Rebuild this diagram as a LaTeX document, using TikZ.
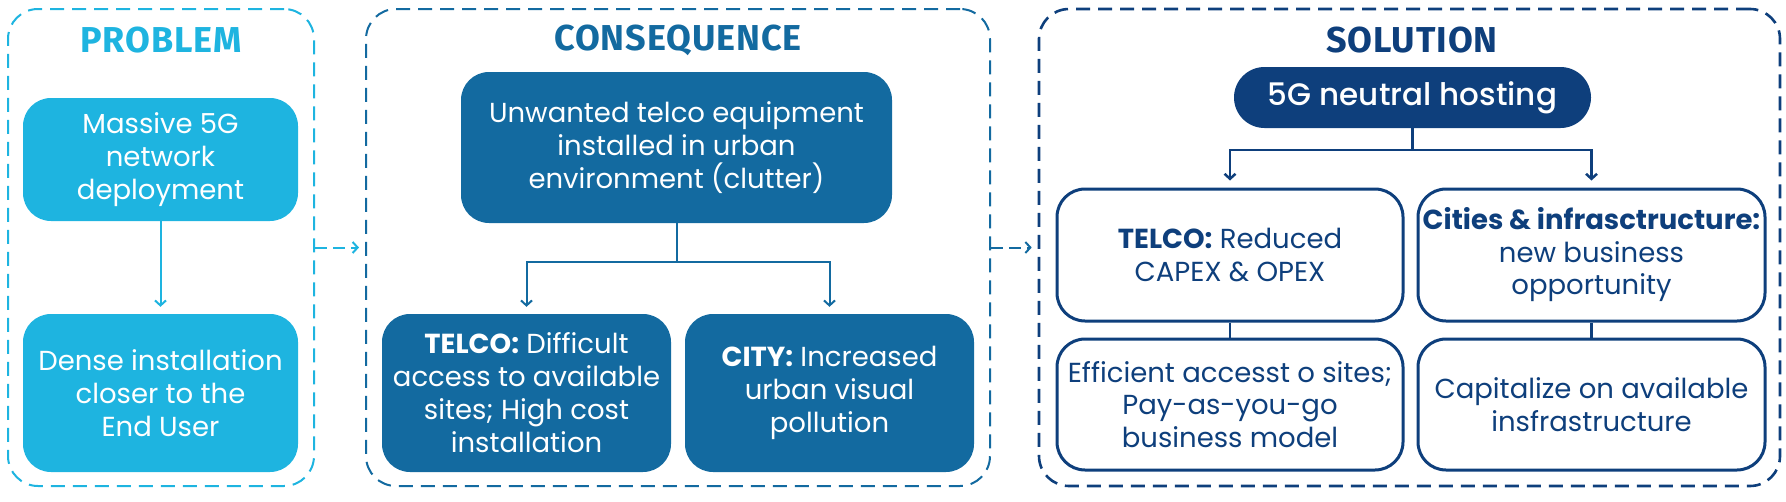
\documentclass[tikz,border=0pt]{standalone}
\usepackage{fontspec}
\setmainfont{Poppins}
\newfontfamily\hdrfont[LetterSpace=2.5]{Fira Sans}
\newfontfamily\medfont{Poppins Medium}
\usetikzlibrary{arrows.meta}
\definecolor{pblue}{RGB}{30,180,224}
\definecolor{cblue}{RGB}{19,106,160}
\definecolor{sblue}{RGB}{14,63,124}
\tikzset{
  frame/.style={draw, dash pattern=on 14pt off 8pt, rounded corners=30pt, line width=2pt, inner sep=0pt},
  fillbox/.style={rounded corners=28pt, text=white, align=center, inner sep=0pt, font=\fontsize{27.5}{33}\selectfont},
  outbox/.style={draw=sblue, line width=3pt, fill=white, rounded corners=28pt, text=sblue, align=center, inner sep=0pt, font=\fontsize{27.5}{32.5}\selectfont},
  hdr/.style={font=\hdrfont\bfseries\fontsize{36}{40}\selectfont, inner sep=0pt},
  arr/.style={-{Straight Barb[length=5pt,width=11pt]}, line width=2pt},
  conn/.style={line width=2pt},
}
\begin{document}
\begin{tikzpicture}[x=1pt,y=-1pt]
\useasboundingbox (0,0) rectangle (1786,501);
% frames
\node[frame, draw=pblue, minimum width=306pt, minimum height=477pt] (pf) at (161,247.5) {};
\node[frame, draw=cblue, minimum width=624pt, minimum height=477pt] (cf) at (678,247.5) {};
\node[frame, draw=sblue, line width=2.6pt, minimum width=741pt, minimum height=477pt] (sf) at (1409.5,247.5) {};
% headers
\node[hdr, text=pblue] (ph) at (161,40) {PROBLEM};
\node[hdr, text=cblue] (ch) at (678,40) {CONSEQUENCE};
\node[hdr, text=sblue] (sh) at (1412,40) {SOLUTION};
% problem
\node[fillbox, fill=pblue, minimum width=275pt, minimum height=123pt] (p1) at (160.5,159.5) {Massive 5G\\network\\deployment};
\node[fillbox, fill=pblue, minimum width=275pt, minimum height=158pt] (p2) at (160.5,393) {Dense installation\\closer to the\\End User};
\draw[arr, pblue, shorten >=7pt] (p1.south) -- (p2.north);
% consequence
\node[fillbox, fill=cblue, minimum width=431pt, minimum height=151pt] (c1) at (676.5,147.5) {Unwanted telco equipment\\installed in urban\\environment (clutter)};
\node[fillbox, fill=cblue, minimum width=289pt, minimum height=158pt] (c2) at (526.5,393) {\textbf{TELCO:} Difficult\\access to available\\sites; High cost\\installation};
\node[fillbox, fill=cblue, minimum width=289pt, minimum height=158pt] (c3) at (829.5,393) {\textbf{CITY:} Increased\\urban visual\\pollution};
\coordinate (cj) at (676.5,262);
\draw[conn, cblue] (c1.south) -- (cj);
\draw[arr, cblue, shorten >=7pt] (cj) -| (c2.north);
\draw[arr, cblue, shorten >=7pt] (cj) -| (c3.north);
% solution
\node[fillbox, fill=sblue, rounded corners=30.5pt, minimum width=357pt, minimum height=61pt, font=\medfont\fontsize{31}{34}\selectfont] (s0) at (1412.5,97.5) {5G neutral hosting};
\node[outbox, minimum width=346pt, minimum height=132pt] (s1) at (1230,255) {\textbf{TELCO:} Reduced\\CAPEX \& OPEX};
\node[outbox, minimum width=347pt, minimum height=132pt] (s2) at (1591.5,255) {\textbf{Cities \& infrasctructure:}\\new business\\opportunity};
\node[outbox, minimum width=346pt, minimum height=131pt] (s3) at (1230,404.5) {Efficient accesst o sites;\\Pay-as-you-go\\business model};
\node[outbox, minimum width=347pt, minimum height=131pt] (s4) at (1591.5,404.5) {Capitalize on available\\insfrastructure};
\coordinate (sj) at (1412.5,150);
\draw[conn, sblue, line width=2.5pt] (s0.south) -- (sj);
\draw[arr, sblue, line width=2.5pt, shorten >=7pt] (sj) -| (s1.north);
\draw[arr, sblue, line width=2.5pt, shorten >=7pt] (sj) -| (s2.north);
\draw[conn, sblue, line width=2.5pt] (s1.south) -- (s3.north);
\draw[conn, sblue, line width=2.5pt] (s2.south) -- (s4.north);
% frame-to-frame arrows
\draw[arr, pblue, dash pattern=on 12pt off 6pt, shorten >=6pt] (pf.east) -- (cf.west);
\draw[arr, cblue, dash pattern=on 12pt off 6pt, shorten >=6pt] (cf.east) -- (sf.west);
\end{tikzpicture}
\end{document}
